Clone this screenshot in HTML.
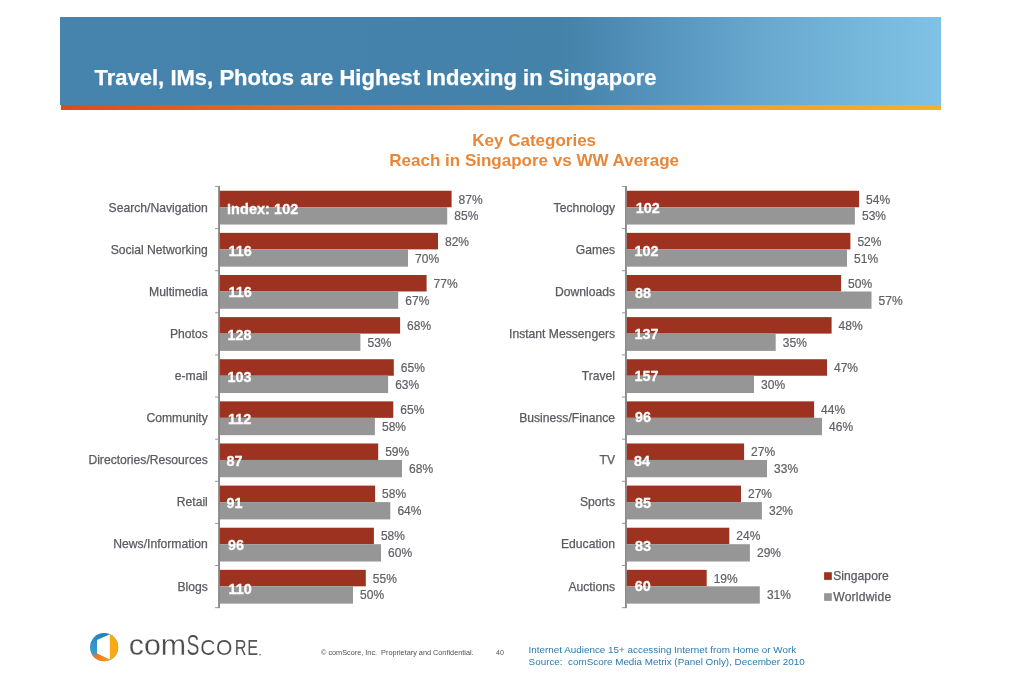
<!DOCTYPE html>
<html lang="en">
<head>
<meta charset="utf-8">
<title>Travel, IMs, Photos are Highest Indexing in Singapore</title>
<style>
html,body{margin:0;padding:0;background:#fff;}
body{width:1012px;height:683px;position:relative;overflow:hidden;font-family:"Liberation Sans",sans-serif;}
.slide{position:absolute;left:0;top:0;width:1012px;height:683px;background:#fff;overflow:hidden;}
header{position:absolute;left:60px;top:17px;width:881px;height:88px;
  background:linear-gradient(90deg,#4683ad 0%,#4582aa 57%,#5a99c2 71%,#6aaad0 81%,#80c2e6 100%);}
header:after{content:"";position:absolute;left:1px;right:0;top:88px;height:5px;
  background:linear-gradient(90deg,#e0481f 0%,#e66a28 25%,#ea852e 50%,#f0a028 75%,#f3b222 100%);}
header h1{margin:0;position:absolute;left:34.4px;top:48px;font-size:22px;line-height:26px;font-weight:bold;color:#fff;white-space:nowrap;letter-spacing:0.02px;-webkit-text-stroke:0.25px #fff;}
h2{margin:0;position:absolute;left:0;width:1068.4px;top:131.4px;text-align:center;font-size:17px;line-height:20px;font-weight:bold;color:#e8873a;}
svg.charts{position:absolute;left:0;top:0;}
svg text{font-family:"Liberation Sans",sans-serif;}
.axis{fill:#8a8a8a;}
.tick{fill:#959595;}
.sg{fill:#9d3220;}
.ww{fill:#969696;}
.cat{font-size:12.15px;fill:#5a5a61;stroke:#5a5a61;stroke-width:0.25px;text-anchor:end;}
.val{font-size:12px;fill:#5f5f66;stroke:#5f5f66;stroke-width:0.2px;}
.idx{font-size:14.4px;font-weight:bold;fill:#fff;stroke:#fff;stroke-width:0.3px;}
.leg{font-size:12.1px;fill:#5a5a61;stroke:#5a5a61;stroke-width:0.25px;}
footer{position:absolute;left:0;top:620px;width:1012px;height:63px;}
.logo{position:absolute;left:0;top:0;}
.lt{fill:#4c4c4c;stroke:#fff;stroke-width:0.3px;}
.l2{stroke-width:0.2px;}
.l3{stroke-width:0.15px;}
.l4{stroke:none;fill:#555;}

.copy{position:absolute;left:321px;top:27.6px;font-size:7.3px;line-height:10px;color:#505050;white-space:pre;}
.page{position:absolute;left:496px;top:27.6px;font-size:7px;line-height:10px;color:#505050;}
.src{position:absolute;left:528.6px;top:23.6px;font-size:9.87px;line-height:12.4px;color:#2a7ab0;white-space:pre;margin:0;}
</style>
</head>
<body>
<div class="slide">
<header><h1>Travel, IMs, Photos are Highest Indexing in Singapore</h1></header>
<h2>Key Categories<br>Reach in Singapore vs WW Average</h2>
<svg class="charts" width="1012" height="683" viewBox="0 0 1012 683">
<g class="chart" aria-label="Left categories">
<rect class="axis" x="218.1" y="185.95" width="1.9" height="422.2"/>
<rect class="tick" x="215.1" y="185.95" width="3.2" height="1"/>
<rect class="tick" x="215.1" y="228.07" width="3.2" height="1"/>
<rect class="tick" x="215.1" y="270.19" width="3.2" height="1"/>
<rect class="tick" x="215.1" y="312.31" width="3.2" height="1"/>
<rect class="tick" x="215.1" y="354.43" width="3.2" height="1"/>
<rect class="tick" x="215.1" y="396.55" width="3.2" height="1"/>
<rect class="tick" x="215.1" y="438.67" width="3.2" height="1"/>
<rect class="tick" x="215.1" y="480.79" width="3.2" height="1"/>
<rect class="tick" x="215.1" y="522.91" width="3.2" height="1"/>
<rect class="tick" x="215.1" y="565.03" width="3.2" height="1"/>
<rect class="tick" x="215.1" y="607.15" width="3.2" height="1"/>
<g class="row">
<text class="cat" x="207.8" y="212">Search/Navigation</text>
<rect class="sg" x="219.9" y="190.75" width="231.7" height="16.5"/>
<rect class="ww" x="219.9" y="207.25" width="227.3" height="17.3"/>
<text class="idx" x="227" y="214" letter-spacing="0.1">Index: 102</text>
<text class="val" x="458.6" y="204">87%</text>
<text class="val" x="454.3" y="220">85%</text>
</g>
<g class="row">
<text class="cat" x="207.8" y="254">Social Networking</text>
<rect class="sg" x="219.9" y="232.87" width="218.1" height="16.5"/>
<rect class="ww" x="219.9" y="249.37" width="188.1" height="17.3"/>
<text class="idx" x="228.6" y="256">116</text>
<text class="val" x="445" y="246">82%</text>
<text class="val" x="415.1" y="263">70%</text>
</g>
<g class="row">
<text class="cat" x="207.8" y="296">Multimedia</text>
<rect class="sg" x="219.9" y="274.99" width="206.7" height="16.5"/>
<rect class="ww" x="219.9" y="291.49" width="178.3" height="17.3"/>
<text class="idx" x="228.6" y="297">116</text>
<text class="val" x="433.6" y="288">77%</text>
<text class="val" x="405.3" y="305">67%</text>
</g>
<g class="row">
<text class="cat" x="207.8" y="338">Photos</text>
<rect class="sg" x="219.9" y="317.11" width="180.2" height="16.5"/>
<rect class="ww" x="219.9" y="333.61" width="140.5" height="17.3"/>
<text class="idx" x="227.6" y="340">128</text>
<text class="val" x="407.1" y="330">68%</text>
<text class="val" x="367.5" y="347">53%</text>
</g>
<g class="row">
<text class="cat" x="207.8" y="380">e-mail</text>
<rect class="sg" x="219.9" y="359.23" width="173.9" height="16.5"/>
<rect class="ww" x="219.9" y="375.73" width="168.2" height="17.3"/>
<text class="idx" x="227.6" y="382">103</text>
<text class="val" x="400.8" y="372">65%</text>
<text class="val" x="395.2" y="389">63%</text>
</g>
<g class="row">
<text class="cat" x="207.8" y="422">Community</text>
<rect class="sg" x="219.9" y="401.35" width="173.4" height="16.5"/>
<rect class="ww" x="219.9" y="417.85" width="155" height="17.3"/>
<text class="idx" x="228" y="424">112</text>
<text class="val" x="400.3" y="414">65%</text>
<text class="val" x="382" y="431">58%</text>
</g>
<g class="row">
<text class="cat" x="207.8" y="464">Directories/Resources</text>
<rect class="sg" x="219.9" y="443.47" width="158.3" height="16.5"/>
<rect class="ww" x="219.9" y="459.97" width="182.1" height="17.3"/>
<text class="idx" x="226.6" y="466">87</text>
<text class="val" x="385.2" y="456">59%</text>
<text class="val" x="409.1" y="473">68%</text>
</g>
<g class="row">
<text class="cat" x="207.8" y="506">Retail</text>
<rect class="sg" x="219.9" y="485.59" width="155.2" height="16.5"/>
<rect class="ww" x="219.9" y="502.09" width="170.4" height="17.3"/>
<text class="idx" x="226.6" y="508">91</text>
<text class="val" x="382.1" y="498">58%</text>
<text class="val" x="397.4" y="515">64%</text>
</g>
<g class="row">
<text class="cat" x="207.8" y="548">News/Information</text>
<rect class="sg" x="219.9" y="527.71" width="154" height="16.5"/>
<rect class="ww" x="219.9" y="544.21" width="161.1" height="17.3"/>
<text class="idx" x="228" y="550">96</text>
<text class="val" x="380.9" y="540">58%</text>
<text class="val" x="388.1" y="557">60%</text>
</g>
<g class="row">
<text class="cat" x="207.8" y="591">Blogs</text>
<rect class="sg" x="219.9" y="569.83" width="145.9" height="16.5"/>
<rect class="ww" x="219.9" y="586.33" width="133.1" height="17.3"/>
<text class="idx" x="228.6" y="594">110</text>
<text class="val" x="372.8" y="583">55%</text>
<text class="val" x="360.1" y="599">50%</text>
</g>
</g>
<g class="chart" aria-label="Right categories">
<rect class="axis" x="625" y="185.95" width="1.9" height="422.2"/>
<rect class="tick" x="622" y="185.95" width="3.2" height="1"/>
<rect class="tick" x="622" y="228.07" width="3.2" height="1"/>
<rect class="tick" x="622" y="270.19" width="3.2" height="1"/>
<rect class="tick" x="622" y="312.31" width="3.2" height="1"/>
<rect class="tick" x="622" y="354.43" width="3.2" height="1"/>
<rect class="tick" x="622" y="396.55" width="3.2" height="1"/>
<rect class="tick" x="622" y="438.67" width="3.2" height="1"/>
<rect class="tick" x="622" y="480.79" width="3.2" height="1"/>
<rect class="tick" x="622" y="522.91" width="3.2" height="1"/>
<rect class="tick" x="622" y="565.03" width="3.2" height="1"/>
<rect class="tick" x="622" y="607.15" width="3.2" height="1"/>
<g class="row">
<text class="cat" x="615" y="212">Technology</text>
<rect class="sg" x="626.8" y="190.75" width="232.3" height="16.5"/>
<rect class="ww" x="626.8" y="207.25" width="228.1" height="17.3"/>
<text class="idx" x="635.7" y="213">102</text>
<text class="val" x="866.1" y="204">54%</text>
<text class="val" x="862" y="220">53%</text>
</g>
<g class="row">
<text class="cat" x="615" y="254">Games</text>
<rect class="sg" x="626.8" y="232.87" width="223.6" height="16.5"/>
<rect class="ww" x="626.8" y="249.37" width="220.2" height="17.3"/>
<text class="idx" x="634.4" y="256">102</text>
<text class="val" x="857.4" y="246">52%</text>
<text class="val" x="854.1" y="263">51%</text>
</g>
<g class="row">
<text class="cat" x="615" y="296">Downloads</text>
<rect class="sg" x="626.8" y="274.99" width="214.3" height="16.5"/>
<rect class="ww" x="626.8" y="291.49" width="244.7" height="17.3"/>
<text class="idx" x="635" y="298">88</text>
<text class="val" x="848.1" y="288">50%</text>
<text class="val" x="878.6" y="305">57%</text>
</g>
<g class="row">
<text class="cat" x="615" y="338">Instant Messengers</text>
<rect class="sg" x="626.8" y="317.11" width="204.8" height="16.5"/>
<rect class="ww" x="626.8" y="333.61" width="148.9" height="17.3"/>
<text class="idx" x="634.4" y="339">137</text>
<text class="val" x="838.6" y="330">48%</text>
<text class="val" x="782.8" y="347">35%</text>
</g>
<g class="row">
<text class="cat" x="615" y="380">Travel</text>
<rect class="sg" x="626.8" y="359.23" width="200.2" height="16.5"/>
<rect class="ww" x="626.8" y="375.73" width="127.2" height="17.3"/>
<text class="idx" x="634.4" y="381">157</text>
<text class="val" x="834" y="372">47%</text>
<text class="val" x="761.1" y="389">30%</text>
</g>
<g class="row">
<text class="cat" x="615" y="422">Business/Finance</text>
<rect class="sg" x="626.8" y="401.35" width="187.3" height="16.5"/>
<rect class="ww" x="626.8" y="417.85" width="195.2" height="17.3"/>
<text class="idx" x="635" y="422">96</text>
<text class="val" x="821.1" y="414">44%</text>
<text class="val" x="829.1" y="431">46%</text>
</g>
<g class="row">
<text class="cat" x="615" y="464">TV</text>
<rect class="sg" x="626.8" y="443.47" width="117.3" height="16.5"/>
<rect class="ww" x="626.8" y="459.97" width="140.2" height="17.3"/>
<text class="idx" x="634" y="466">84</text>
<text class="val" x="751.1" y="456">27%</text>
<text class="val" x="774.1" y="473">33%</text>
</g>
<g class="row">
<text class="cat" x="615" y="506">Sports</text>
<rect class="sg" x="626.8" y="485.59" width="114.2" height="16.5"/>
<rect class="ww" x="626.8" y="502.09" width="135.1" height="17.3"/>
<text class="idx" x="635" y="508">85</text>
<text class="val" x="748" y="498">27%</text>
<text class="val" x="769" y="515">32%</text>
</g>
<g class="row">
<text class="cat" x="615" y="548">Education</text>
<rect class="sg" x="626.8" y="527.71" width="102.5" height="16.5"/>
<rect class="ww" x="626.8" y="544.21" width="123.1" height="17.3"/>
<text class="idx" x="635" y="551">83</text>
<text class="val" x="736.3" y="540">24%</text>
<text class="val" x="757" y="557">29%</text>
</g>
<g class="row">
<text class="cat" x="615" y="591">Auctions</text>
<rect class="sg" x="626.8" y="569.83" width="79.9" height="16.5"/>
<rect class="ww" x="626.8" y="586.33" width="133" height="17.3"/>
<text class="idx" x="634.8" y="591">60</text>
<text class="val" x="713.7" y="583">19%</text>
<text class="val" x="766.9" y="599">31%</text>
</g>
</g>
<g class="legend">
<rect class="sg" x="824.1" y="572.2" width="7.7" height="7.7"/>
<text class="leg" x="833.2" y="579.9" letter-spacing="0.05">Singapore</text>
<rect class="ww" x="824.1" y="593.2" width="7.7" height="7.7"/>
<text class="leg" x="833.3" y="601" letter-spacing="0.2">Worldwide</text>
</g>
</svg>
<footer>
<svg class="logo" width="300" height="63" viewBox="0 620 300 63" role="img" aria-label="comScore">
<title>comScore</title>
<defs>
<clipPath id="lc"><circle cx="104.1" cy="647.2" r="14.1"/></clipPath>
<linearGradient id="lb" x1="0.6" y1="0" x2="0.2" y2="1"><stop offset="0" stop-color="#1c7db3"/><stop offset="1" stop-color="#45a6dc"/></linearGradient>
<linearGradient id="lo" x1="0" y1="0" x2="1" y2="0.6"><stop offset="0" stop-color="#e85a2a"/><stop offset="1" stop-color="#f7a21c"/></linearGradient>
</defs>
<g clip-path="url(#lc)">
<rect x="88" y="630" width="32" height="34" fill="url(#lb)"/>
<polygon points="88,656 97,653.5 109.6,659.3 109.6,666 88,666" fill="url(#lo)"/>
<rect x="109.6" y="630" width="12" height="34" fill="#f8aa14"/>
<polygon points="97,640 109.9,634.2 109.9,659.5 97,653.5" fill="#fff"/>
</g>
<text class="lt l1" font-size="29.0" transform="scale(1.05,1)" x="122.61 137.08 153.11" y="655.45">com</text>
<text class="lt l2" font-size="29.2" transform="scale(0.66,1)" x="282.76" y="655.5">S</text>
<text class="lt l3" font-size="22.6" transform="scale(0.93,1)" x="215.35 232.3" y="655.5">CO</text>
<text class="lt l4" font-size="22.6" transform="scale(0.72,1)" x="325.96 343.48" y="655.5">RE</text>
<circle cx="260" cy="654.7" r="0.9" fill="#8a8a8a"/>
</svg>
<div class="copy">© comScore, Inc.  Proprietary and Confidential.</div>
<div class="page">40</div>
<p class="src">Internet Audience 15+ accessing Internet from Home or Work
Source:  comScore Media Metrix (Panel Only), December 2010</p>
</footer>
</div>
</body>
</html>
